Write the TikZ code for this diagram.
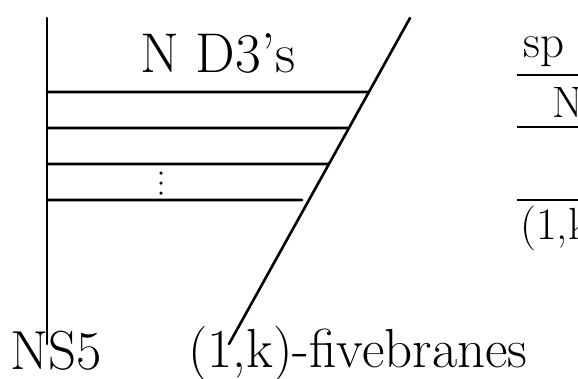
\documentclass[tikz,border=0pt]{standalone}
\usepackage{fontspec}
\usetikzlibrary{calc}
\tikzset{
  brane/.style={line width=2.6pt,line cap=round},
  handtext/.style={inner sep=0pt,anchor=base west},
  dotmark/.style={fill,circle,inner sep=0pt,minimum size=3.5pt}
}
\newcommand*\txtsize[1]{\fontsize{#1}{#1}\selectfont}

\begin{document}
\begin{tikzpicture}[x=1pt,y=-1pt]
\useasboundingbox (0,0) rectangle (578,378);

% the two fivebranes
\coordinate (ns5top) at (47,18);
\coordinate (ns5bot) at (47,344);
\coordinate (fbtop) at (410,18);
\coordinate (fbbot) at (229,344);
\draw[brane] (ns5top) -- (ns5bot);
\draw[brane] (fbtop) -- (fbbot);

% D3 segments between them
\foreach \y/\s in {92/0,128/0,164/0,200/7} {
  \coordinate (d3start) at (47,\y);
  \coordinate (d3end) at ($(fbtop)!{(\y-18)/326}!(fbbot)$);
  \draw[brane,shorten >=\s pt] (d3start) -- (d3end);
}
\foreach \i/\y in {1/173,2/183,3/193}
  \node[dotmark] (dot\i) at (161,\y) {};

% labels
\node[handtext] (nd3) at (140,72) {\txtsize{56}N D3's};
\node[handtext] (ns5) at (10,369) {\txtsize{55}NS5};
\node[handtext] (fivebranes) at (188,367) {\txtsize{55}(1,k)-fivebranes};

% right column, running off the edge
\coordinate (colL1) at (517,75);
\coordinate (colL2) at (517,127);
\coordinate (colL3) at (517,200);
\foreach \c in {colL1,colL2,colL3}
  \draw[brane,line cap=butt] (\c) -- ++(70,0);
\node[handtext] (sp) at (523,57) {\txtsize{47}sp};
\node[handtext] (colN) at (552,117) {\txtsize{44}N};
\node[handtext] (colk) at (520,239) {\txtsize{45}(1,k};
\end{tikzpicture}
\end{document}
